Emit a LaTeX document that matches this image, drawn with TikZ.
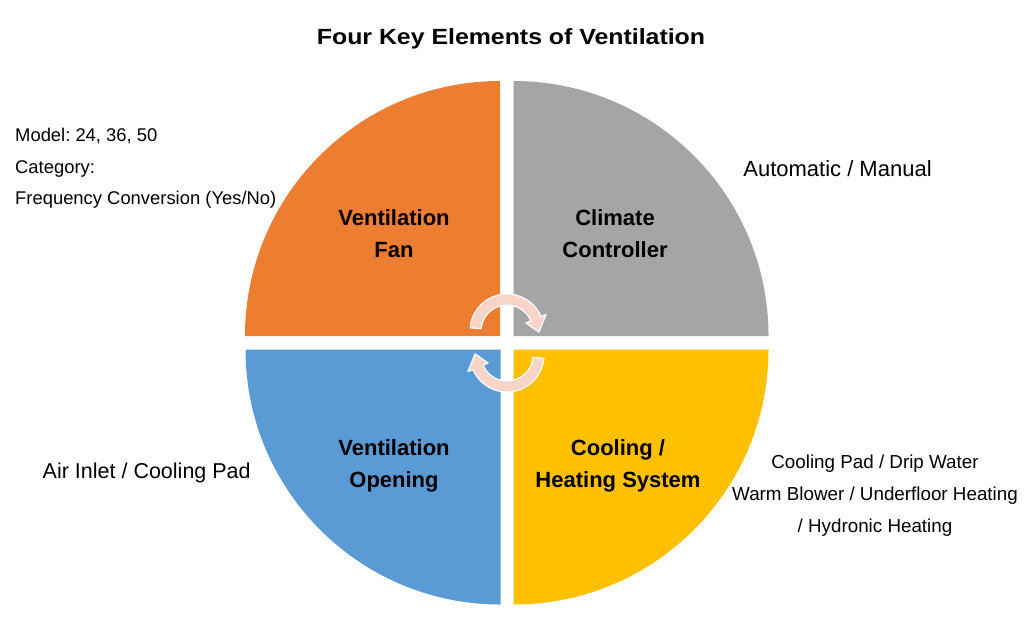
\documentclass[tikz,border=0pt]{standalone}
\usepackage{fontspec}
\setmainfont{Liberation Sans}
\usepackage{graphicx}
\usepackage{tikz}
\frenchspacing

\definecolor{fanorange}{HTML}{ED7D31}
\definecolor{ctrlgray}{HTML}{A5A5A5}
\definecolor{openblue}{HTML}{5B9BD5}
\definecolor{heatyellow}{HTML}{FFC000}
\definecolor{arrowpink}{RGB}{248,213,200}

\tikzset{
  qlabel/.style={font=\fontsize{22}{26}\selectfont\bfseries, anchor=base, inner sep=0pt},
  sidetext/.style={font=\fontsize{18.4}{20}\selectfont, anchor=base west, inner sep=0pt},
  roundarrow/.style={fill=arrowpink, draw=white, line width=1.2pt, line join=round}
}

\begin{document}
\begin{tikzpicture}[x=1pt,y=-1pt]
\useasboundingbox (0,0) rectangle (1024,625);
    % title
    \node[inner sep=0pt, anchor=base, font=\fontsize{22}{24}\selectfont\bfseries] (title) at (511,44) {\scalebox{1.13}[1]{Four Key Elements of Ventilation}};
    % four quarters
    \fill [fanorange] (500,336) -- +(180:255) arc (180:270:255) -- cycle;
    \fill [ctrlgray] (513.5,336) -- +(270:255) arc (270:360:255) -- cycle;
    \fill [heatyellow] (513.5,349.5) -- +(0:255) arc (0:90:255) -- cycle;
    \fill [openblue] (500.5,349.5) -- +(90:255) arc (90:180:255) -- cycle;
    % round arrows in the middle
    \begin{scope}[shift={(507,331)}]
    \filldraw [roundarrow] (185:37) arc (185:337:37) -- (337:42.5) -- (2:32) -- (337:20.5) -- (337:26) arc (337:185:26) -- cycle;
    \end{scope}
    \begin{scope}[shift={(507,355)}, rotate=180]
    \filldraw [roundarrow] (185:37) arc (185:337:37) -- (337:42.5) -- (2:32) -- (337:20.5) -- (337:26) arc (337:185:26) -- cycle;
    \end{scope}
    % quarter labels
    \node[qlabel] (fan) at (394,225.4) {Ventilation};
    \node[qlabel] (fan2) at ([yshift=-32pt]fan.base) {Fan};
    \node[qlabel] (ctrl) at (615,225.4) {Climate};
    \node[qlabel] (ctrl2) at ([yshift=-32pt]ctrl.base) {Controller};
    \node[qlabel] (open) at (394,455) {Ventilation};
    \node[qlabel] (open2) at ([yshift=-32pt]open.base) {Opening};
    \node[qlabel] (heat) at (618,455) {Cooling /};
    \node[qlabel] (heat2) at ([yshift=-32pt]heat.base) {Heating System};
    % side texts
    \node[sidetext] (model) at (15,141.4) {Model: 24, 36, 50};
    \node[sidetext] (cat) at ([yshift=-31.7pt]model.base west) {Category:};
    \node[sidetext] (freq) at ([yshift=-31.7pt]cat.base west) {Frequency Conversion (Yes/No)};
    \node[sidetext, anchor=base, font=\fontsize{22}{24}\selectfont] (auto) at (837.5,176.6) {Automatic / Manual};
    \node[sidetext, anchor=base, font=\fontsize{21.5}{24}\selectfont] (inlet) at (146.7,478.5) {Air Inlet / Cooling Pad};
    \node[sidetext, anchor=base, font=\fontsize{18.8}{22}\selectfont] (pad) at (875,468.5) {Cooling Pad / Drip Water};
    \node[sidetext, anchor=base, font=\fontsize{18.8}{22}\selectfont] (warm) at ([yshift=-31.8pt]pad.base) {Warm Blower / Underfloor Heating};
    \node[sidetext, anchor=base, font=\fontsize{18.8}{22}\selectfont] (hydro) at ([yshift=-32.3pt]warm.base) {/ Hydronic Heating};
\end{tikzpicture}
\end{document}
